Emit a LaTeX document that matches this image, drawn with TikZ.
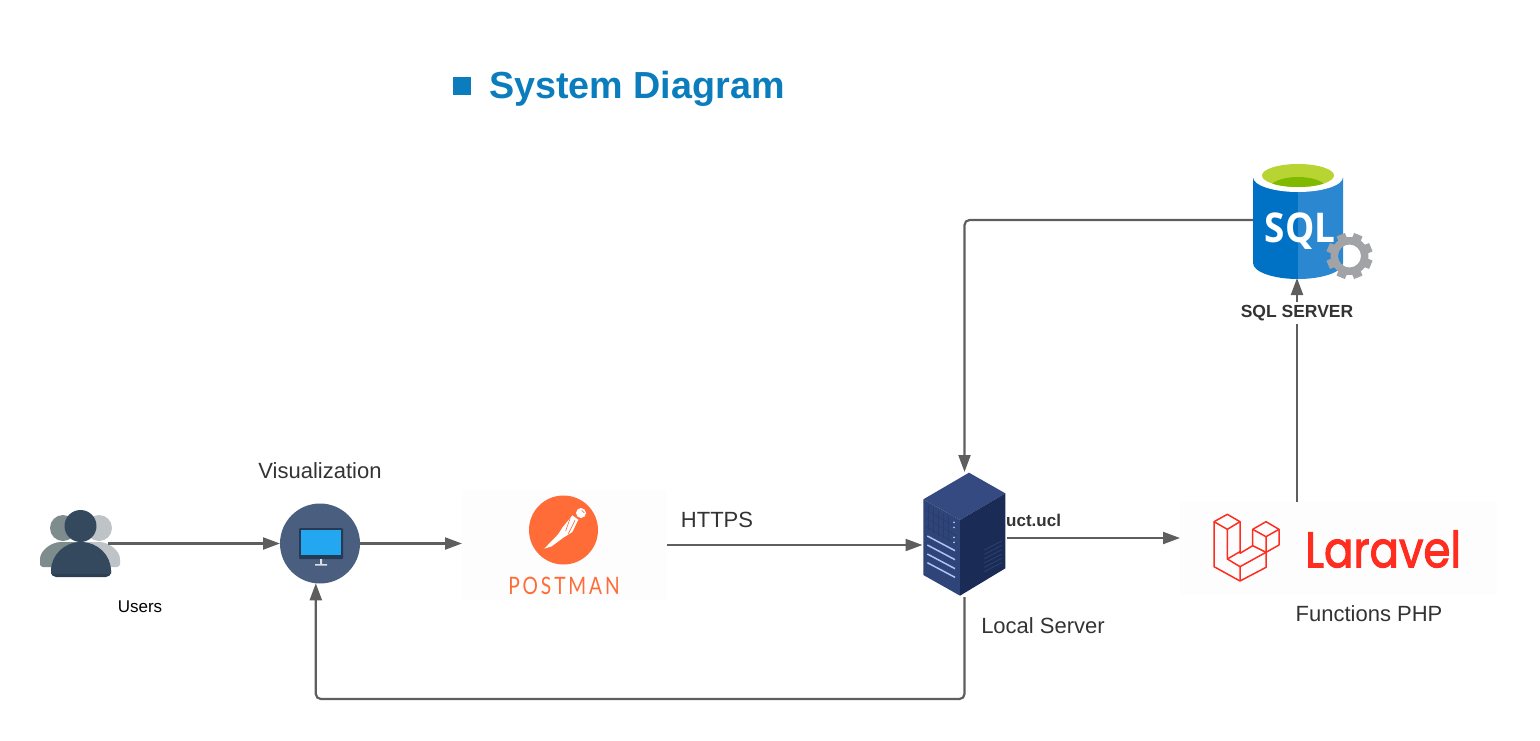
\documentclass[tikz,border=0pt]{standalone}
\usepackage{fontspec}
\setmainfont{Liberation Sans}
\newfontfamily\sqlfont[FakeStretch=0.9]{Open Sans}
\newfontfamily\postmanfont[LetterSpace=12,FakeStretch=0.8]{Lato}
\newfontfamily\laravelfont[FakeBold=2,FakeStretch=0.87]{Poppins}
\usetikzlibrary{arrows.meta}
\definecolor{flowgray}{HTML}{5E5E5E}
\definecolor{labelgray}{HTML}{333333}
\definecolor{titleblue}{HTML}{0B7DBD}
\definecolor{visblue}{HTML}{4A5E80}
\definecolor{postorange}{HTML}{FF6C37}
\definecolor{larared}{HTML}{FF2D20}
\definecolor{faintbox}{HTML}{FDFDFD}
\definecolor{userfront}{HTML}{34495E}
\definecolor{userband}{HTML}{2C3E50}
\definecolor{userleft}{HTML}{7F8C8D}
\definecolor{userright}{HTML}{BDC3C7}
\definecolor{monframe}{HTML}{243A55}
\definecolor{monscreen}{HTML}{22A7F0}
\definecolor{servertop}{HTML}{344A80}
\definecolor{serverleft}{HTML}{2F4478}
\definecolor{serverright}{HTML}{1A2B55}
\definecolor{servergrid}{HTML}{293C6C}
\definecolor{servervent}{HTML}{2B4070}
\definecolor{serverbar}{HTML}{B0C2F8}
\definecolor{sqlleft}{HTML}{0072C6}
\definecolor{sqlright}{HTML}{2A87D0}
\definecolor{sqlgreen}{HTML}{B8D432}
\definecolor{sqldark}{HTML}{7FBA00}
\definecolor{geargray}{HTML}{A2A3A6}
\tikzset{
	flow/.style={draw=flowgray,line width=2.2pt,-{Triangle[length=17pt,width=12pt]},rounded corners=5pt},
	lbl/.style={text=labelgray,font=\fontsize{22}{26}\selectfont,inner sep=0pt},
	iconbox/.style={inner sep=0pt,outer sep=0pt},
}
\begin{document}
\begin{tikzpicture}[x=1pt,y=-1pt]
	\useasboundingbox (0,0) rectangle (1540,740);
	% title
	\fill[titleblue] (453,77) rectangle (471,95);
	\node[anchor=west,inner sep=0pt,text=titleblue,font=\fontsize{37.7}{42}\selectfont\bfseries] (title) at (489,89) {System Diagram};
	% boxes the connectors end on
	\node[iconbox,minimum width=56pt,minimum height=68pt] (users) at (80,543.5) {};
	\node[iconbox,circle,fill=visblue,minimum size=80pt] (vis) at (320,543.5) {};
	\node[iconbox,fill=faintbox,minimum width=205pt,minimum height=110pt] (postman) at (564.5,545) {};
	\node[iconbox,minimum width=84pt,minimum height=125pt] (server) at (964.5,534.5) {};
	\node[iconbox,fill=faintbox,minimum width=317pt,minimum height=93pt] (laravel) at (1338.5,548.5) {};
	\node[iconbox,minimum width=90pt,minimum height=116pt] (sql) at (1298,220) {};
	% users
	\fill[userleft] (63,528) circle (13);
	\fill[userright] (99,528) circle (13);
	\fill[userleft,rounded corners=3pt] (40,567) -- (40,562) arc[start angle=180,end angle=270,x radius=24,y radius=20] -- (80,542) -- (80,567) -- cycle;
	\fill[userright,rounded corners=3pt] (120,567) -- (120,562) arc[start angle=0,end angle=-90,x radius=24,y radius=20] -- (80,542) -- (80,567) -- cycle;
	\fill[userband] (51,570) -- (111,570) -- (111,572) arc[start angle=0,end angle=90,radius=5] -- (56,577) arc[start angle=90,end angle=180,radius=5] -- cycle;
	\fill[userfront] (51,572) -- (51,571) arc[start angle=180,end angle=360,x radius=30,y radius=29] -- (111,574) -- (51,574) -- cycle;
	\fill[userfront] (80.5,526) circle (16);
	% monitor
	\fill[monframe,rounded corners=1pt] (299,528) rectangle (343,559);
	\fill[monscreen] (301,530) rectangle (341,555);
	\fill[white!80!visblue] (320,559) rectangle (322,564) (315,564) rectangle (327,565.5);
	% postman
	\fill[postorange] (563.5,530) circle (34.5);
	\begin{scope}[shift={(535,497)},scale=1/3]
		\fill[white] (138,48) circle (15);
		\fill[white] (112,55) -- (130,68) -- (112,105) -- (85,122) -- (50,148) -- (28,155) -- (42,140) -- (62,120) -- (72,108) -- (82,92) -- cycle;
		\draw[postorange,line width=0.6pt] (106,62) -- (92,102) (120,70) -- (100,110) (140,40) -- (148,48);
	\end{scope}
	\node[inner sep=0pt,text=postorange,font=\fontsize{24}{28}\postmanfont] (posttext) at (564,586) {POSTMAN};
	% server
	\begin{scope}[shift={(900,460)},scale=1/3]
		\fill[servertop] (70,118) -- (207,38) -- (316,100) -- (180,180) -- cycle;
		\fill[serverleft] (70,118) -- (180,180) -- (180,407) -- (70,345) -- cycle;
		\fill[serverright] (180,180) -- (316,100) -- (316,325) -- (180,407) -- cycle;
		\foreach \x in {85,100,...,145}
			\draw[servergrid,line width=0.5pt] (\x,136+0.56*\x-47.6) -- (\x,210+0.56*\x-47.6);
		\foreach \y in {150,175,200}
			\draw[servergrid,line width=0.5pt] (78,\y) -- (170,\y+52);
		\foreach \y in {228,255,282,308}
			\draw[serverbar,line width=1.5pt] (82,\y) -- (165,\y+44);
		\foreach \y in {187,202,232,247}
			\fill[serverbar] (162,\y) circle (3);
		\foreach \y in {270,283,...,345}
			\draw[servervent,line width=0.9pt] (253,\y) -- (305,\y-27);
	\end{scope}
	% laravel
	\begin{scope}[shift={(1190,490)},scale=1/3,draw=larared,line width=1.5pt,line join=round]
		\draw (72,95) -- (112,73) -- (150,95) -- (150,190) -- (188,167) -- (188,118) -- (228,95) -- (267,118) -- (267,165) -- (228,187) -- (228,232) -- (150,273) -- (72,230) -- cycle;
		\draw (72,95) -- (112,118) -- (150,95) (112,118) -- (112,207) -- (150,230) -- (228,187);
		\draw (150,230) -- (150,273) (112,207) -- (150,185) (188,118) -- (228,140) -- (267,118) (228,140) -- (228,187) (188,167) -- (228,187);
	\end{scope}
	\node[anchor=west,inner sep=0pt,text=larared,font=\fontsize{50}{56}\laravelfont] (laraveltext) at (1305,549) {Laravel};
	% sql
	\fill[sqlleft] (1253,177) -- (1298,177) -- (1298,279) arc[start angle=90,end angle=180,x radius=45,y radius=16] -- cycle;
	\fill[sqlright] (1343,177) -- (1298,177) -- (1298,279) arc[start angle=90,end angle=0,x radius=45,y radius=16] -- cycle;
	\fill[white] (1298,177) ellipse (45 and 15);
	\fill[sqlgreen] (1298,175.5) ellipse (36 and 11.5);
	\begin{scope}
		\clip (1298,175.5) ellipse (36 and 11.5);
		\fill[sqldark] (1298,188) ellipse (28 and 11);
	\end{scope}
	\node[inner sep=0pt,text=white,font=\fontsize{41}{46}\sqlfont\bfseries] (sqltext) at (1300,231) {SQL};
	\begin{scope}[shift={(1349.5,256)}]
		\fill[geargray,even odd rule] (0,0) circle (19) (0,0) circle (11.5);
		\foreach \ang in {22.5,67.5,...,337.5}
			\fill[geargray] (\ang-17:16) -- (\ang-11:23.5) -- (\ang+11:23.5) -- (\ang+17:16) -- cycle;
	\end{scope}
	% labels
	\node[lbl] (vislabel) at (320,471) {Visualization};
	\node[lbl,text=black,font=\fontsize{17}{20}\selectfont] (userslabel) at (140,607) {Users};
	\node[lbl] (https) at (717,520) {HTTPS};
	\node[lbl,anchor=west,font=\fontsize{17}{20}\selectfont\bfseries] (uct) at (1006,520) {uct.ucl};
	\node[lbl] (serverlabel) at (1043,626) {Local Server};
	\node[lbl] (functions) at (1369,614) {Functions PHP};
	% connectors
	\draw[flow] (users.east) -- (vis.west);
	\draw[flow] (vis.east) -- (postman.west |- vis.east);
	\draw[flow] (postman.east) -- (server.west |- postman.east);
	\draw[flow] ([yshift=-3.5pt]server.east) -- (laravel.west |- 0,538);
	\draw[flow] (sql.west) -- (server.north |- sql.west) -- (server.north);
	\draw[flow] (server.south) -- (server.south |- 0,699) -- (vis.-96 |- 0,699) -- (vis.-96);
	\draw[flow] (laravel.north -| 1297,0) -- (sql.south -| 1297,0);
	\node[lbl,fill=white,inner sep=3pt,font=\fontsize{17.5}{20}\selectfont\bfseries] (sqllabel) at (1297,313) {SQL SERVER};
\end{tikzpicture}
\end{document}
